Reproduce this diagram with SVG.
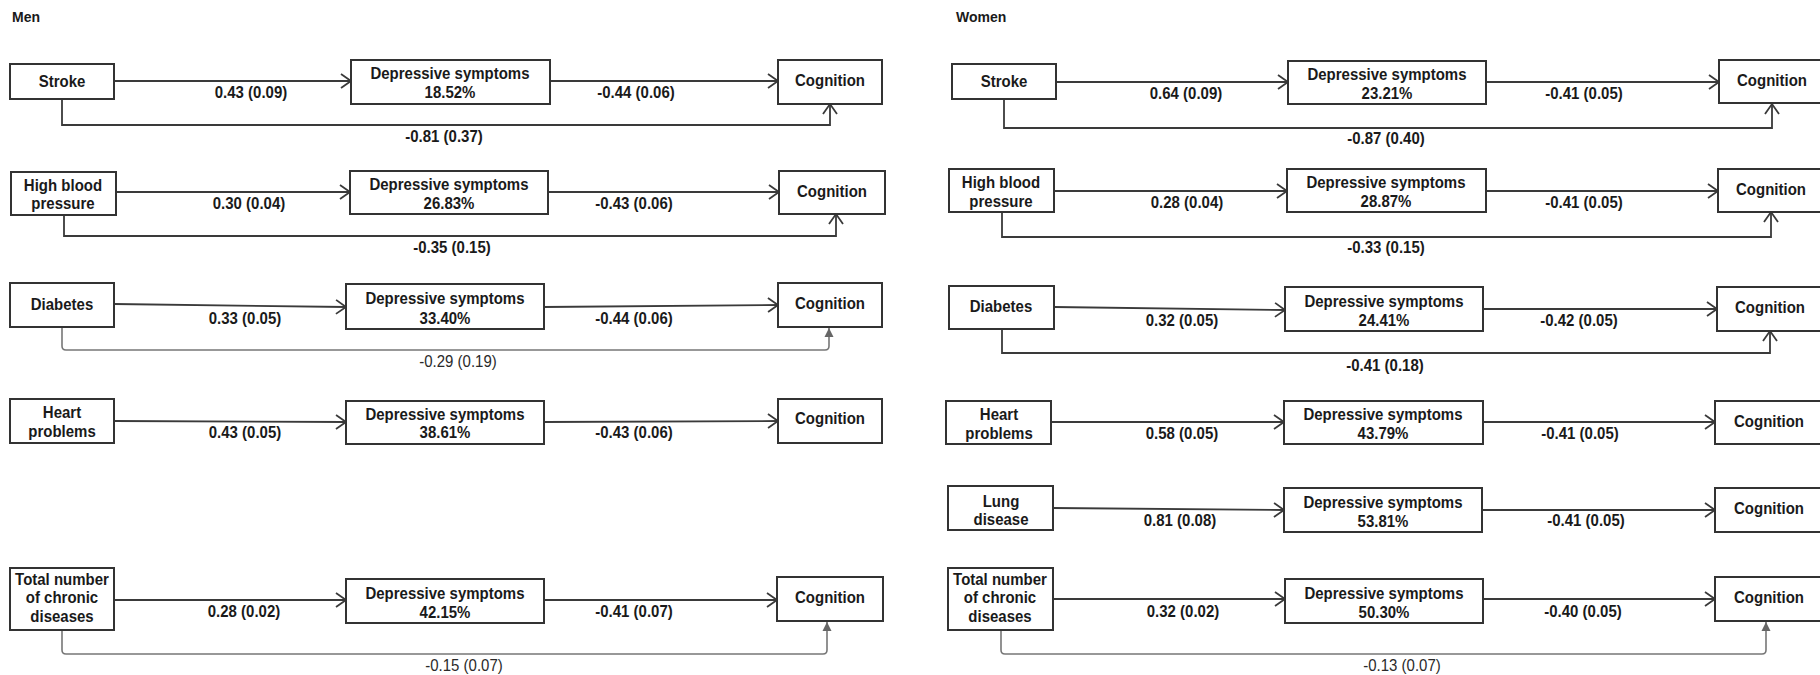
<svg xmlns="http://www.w3.org/2000/svg" width="1820" height="675" viewBox="0 0 1820 675">
<style>
  .bg{fill:#ffffff}
  .box{fill:#ffffff;stroke:#333333;stroke-width:2}
  .t{font-family:"Liberation Sans",Arial,sans-serif;font-size:15px;font-weight:bold;fill:#1a1a1a;text-anchor:middle;dominant-baseline:central;transform-box:fill-box;transform-origin:center;transform:scaleY(1.1)}
  .r{font-weight:normal;fill:#2a2a2a}
  .title{font-family:"Liberation Sans",Arial,sans-serif;font-size:14px;font-weight:bold;fill:#1a1a1a}
  .ln{fill:none;stroke:#3a3a3a;stroke-width:1.8}
  .lg{fill:none;stroke:#777777;stroke-width:1.6;stroke-linejoin:round}
</style>
<defs>
  <marker id="open" markerUnits="userSpaceOnUse" markerWidth="14" markerHeight="16" refX="11" refY="7" orient="auto" overflow="visible">
    <path d="M1,0 L11,7 L1,14" fill="none" stroke="#3a3a3a" stroke-width="1.8"/>
  </marker>
  <marker id="fill" markerUnits="userSpaceOnUse" markerWidth="12" markerHeight="10" refX="9" refY="4.5" orient="auto" overflow="visible">
    <path d="M0,0 L9,4.5 L0,9 Z" fill="#666666"/>
  </marker>
</defs>
<rect class="bg" x="0" y="0" width="1820" height="675"/>

<text class="title" x="12" y="22">Men</text>
<text class="title" x="956" y="22">Women</text>

<g id="connectors">
  <!-- Men row 1 -->
  <line class="ln" x1="114" y1="81" x2="351" y2="81" marker-end="url(#open)"/>
  <line class="ln" x1="550" y1="81" x2="778" y2="81" marker-end="url(#open)"/>
  <path class="ln" d="M62 99 V125 H830 V104" marker-end="url(#open)"/>
  <!-- Men row 2 -->
  <line class="ln" x1="116" y1="192" x2="350" y2="192" marker-end="url(#open)"/>
  <line class="ln" x1="548" y1="192" x2="779" y2="192" marker-end="url(#open)"/>
  <path class="ln" d="M64 215 V236 H836 V214" marker-end="url(#open)"/>
  <!-- Men row 3 -->
  <line class="ln" x1="114" y1="304" x2="346" y2="307" marker-end="url(#open)"/>
  <line class="ln" x1="544" y1="307" x2="778" y2="305" marker-end="url(#open)"/>
  <path class="lg" d="M62 327 V346 Q62 350 66 350 H825 Q829 350 829 346 V328" marker-end="url(#fill)"/>
  <!-- Men row 4 -->
  <line class="ln" x1="114" y1="421" x2="346" y2="422" marker-end="url(#open)"/>
  <line class="ln" x1="544" y1="422" x2="778" y2="421" marker-end="url(#open)"/>
  <!-- Men row 5 -->
  <line class="ln" x1="114" y1="600" x2="346" y2="600" marker-end="url(#open)"/>
  <line class="ln" x1="544" y1="600" x2="777" y2="600" marker-end="url(#open)"/>
  <path class="lg" d="M62 630 V650 Q62 654 66 654 H823 Q827 654 827 650 V622" marker-end="url(#fill)"/>

  <!-- Women row 1 -->
  <line class="ln" x1="1056" y1="82" x2="1288" y2="82" marker-end="url(#open)"/>
  <line class="ln" x1="1486" y1="82" x2="1719" y2="82" marker-end="url(#open)"/>
  <path class="ln" d="M1004 99 V128 H1772 V104" marker-end="url(#open)"/>
  <!-- Women row 2 -->
  <line class="ln" x1="1054" y1="191" x2="1287" y2="191" marker-end="url(#open)"/>
  <line class="ln" x1="1486" y1="191" x2="1718" y2="191" marker-end="url(#open)"/>
  <path class="ln" d="M1002 212 V237 H1771 V212" marker-end="url(#open)"/>
  <!-- Women row 3 -->
  <line class="ln" x1="1054" y1="307" x2="1285" y2="310" marker-end="url(#open)"/>
  <line class="ln" x1="1483" y1="309" x2="1717" y2="309" marker-end="url(#open)"/>
  <path class="ln" d="M1002 329 V353 H1770 V331" marker-end="url(#open)"/>
  <!-- Women row 4 -->
  <line class="ln" x1="1051" y1="422" x2="1284" y2="422" marker-end="url(#open)"/>
  <line class="ln" x1="1483" y1="422" x2="1715" y2="422" marker-end="url(#open)"/>
  <!-- Women row 5 -->
  <line class="ln" x1="1053" y1="508" x2="1284" y2="510" marker-end="url(#open)"/>
  <line class="ln" x1="1482" y1="510" x2="1715" y2="510" marker-end="url(#open)"/>
  <!-- Women row 6 -->
  <line class="ln" x1="1053" y1="599" x2="1285" y2="599" marker-end="url(#open)"/>
  <line class="ln" x1="1483" y1="599" x2="1715" y2="599" marker-end="url(#open)"/>
  <path class="lg" d="M1001 630 V650 Q1001 654 1005 654 H1762 Q1766 654 1766 650 V622" marker-end="url(#fill)"/>
</g>

<g id="edge-labels">
  <text class="t" x="251" y="92">0.43 (0.09)</text>
  <text class="t" x="636" y="92">-0.44 (0.06)</text>
  <text class="t" x="444" y="136">-0.81 (0.37)</text>
  <text class="t" x="249" y="203">0.30 (0.04)</text>
  <text class="t" x="634" y="203">-0.43 (0.06)</text>
  <text class="t" x="452" y="247">-0.35 (0.15)</text>
  <text class="t" x="245" y="318">0.33 (0.05)</text>
  <text class="t" x="634" y="318">-0.44 (0.06)</text>
  <text class="t r" x="458" y="361">-0.29 (0.19)</text>
  <text class="t" x="245" y="432">0.43 (0.05)</text>
  <text class="t" x="634" y="432">-0.43 (0.06)</text>
  <text class="t" x="244" y="611">0.28 (0.02)</text>
  <text class="t" x="634" y="611">-0.41 (0.07)</text>
  <text class="t r" x="464" y="665">-0.15 (0.07)</text>

  <text class="t" x="1186" y="93">0.64 (0.09)</text>
  <text class="t" x="1584" y="93">-0.41 (0.05)</text>
  <text class="t" x="1386" y="138">-0.87 (0.40)</text>
  <text class="t" x="1187" y="202">0.28 (0.04)</text>
  <text class="t" x="1584" y="202">-0.41 (0.05)</text>
  <text class="t" x="1386" y="247">-0.33 (0.15)</text>
  <text class="t" x="1182" y="320">0.32 (0.05)</text>
  <text class="t" x="1579" y="320">-0.42 (0.05)</text>
  <text class="t" x="1385" y="365">-0.41 (0.18)</text>
  <text class="t" x="1182" y="433">0.58 (0.05)</text>
  <text class="t" x="1580" y="433">-0.41 (0.05)</text>
  <text class="t" x="1180" y="520">0.81 (0.08)</text>
  <text class="t" x="1586" y="520">-0.41 (0.05)</text>
  <text class="t" x="1183" y="611">0.32 (0.02)</text>
  <text class="t" x="1583" y="611">-0.40 (0.05)</text>
  <text class="t r" x="1402" y="665">-0.13 (0.07)</text>
</g>

<!-- Men nodes -->
<g id="m-stroke"><rect class="box" x="10" y="64" width="104" height="35"/><text class="t" x="62" y="81">Stroke</text></g>
<g id="m-dep1"><rect class="box" x="351" y="60" width="199" height="44"/><text class="t" x="450" y="73">Depressive symptoms</text><text class="t" x="450" y="92">18.52%</text></g>
<g id="m-cog1"><rect class="box" x="778" y="60" width="104" height="44"/><text class="t" x="830" y="80">Cognition</text></g>

<g id="m-hbp"><rect class="box" x="11" y="172" width="105" height="43"/><text class="t" x="63" y="185">High blood</text><text class="t" x="63" y="203">pressure</text></g>
<g id="m-dep2"><rect class="box" x="350" y="171" width="198" height="43"/><text class="t" x="449" y="184">Depressive symptoms</text><text class="t" x="449" y="203">26.83%</text></g>
<g id="m-cog2"><rect class="box" x="779" y="171" width="106" height="43"/><text class="t" x="832" y="191">Cognition</text></g>

<g id="m-diabetes"><rect class="box" x="10" y="283" width="104" height="44"/><text class="t" x="62" y="304">Diabetes</text></g>
<g id="m-dep3"><rect class="box" x="346" y="284" width="198" height="45"/><text class="t" x="445" y="298">Depressive symptoms</text><text class="t" x="445" y="318">33.40%</text></g>
<g id="m-cog3"><rect class="box" x="778" y="283" width="104" height="44"/><text class="t" x="830" y="303">Cognition</text></g>

<g id="m-heart"><rect class="box" x="10" y="399" width="104" height="44"/><text class="t" x="62" y="412">Heart</text><text class="t" x="62" y="431">problems</text></g>
<g id="m-dep4"><rect class="box" x="346" y="401" width="198" height="43"/><text class="t" x="445" y="414">Depressive symptoms</text><text class="t" x="445" y="432">38.61%</text></g>
<g id="m-cog4"><rect class="box" x="778" y="399" width="104" height="44"/><text class="t" x="830" y="418">Cognition</text></g>

<g id="m-total"><rect class="box" x="10" y="568" width="104" height="62"/><text class="t" x="62" y="579">Total number</text><text class="t" x="62" y="597">of chronic</text><text class="t" x="62" y="616">diseases</text></g>
<g id="m-dep5"><rect class="box" x="346" y="579" width="198" height="44"/><text class="t" x="445" y="593">Depressive symptoms</text><text class="t" x="445" y="612">42.15%</text></g>
<g id="m-cog5"><rect class="box" x="777" y="577" width="106" height="44"/><text class="t" x="830" y="597">Cognition</text></g>

<!-- Women nodes -->
<g id="w-stroke"><rect class="box" x="952" y="64" width="104" height="35"/><text class="t" x="1004" y="81">Stroke</text></g>
<g id="w-dep1"><rect class="box" x="1288" y="61" width="198" height="43"/><text class="t" x="1387" y="74">Depressive symptoms</text><text class="t" x="1387" y="93">23.21%</text></g>
<g id="w-cog1"><rect class="box" x="1719" y="60" width="104" height="43"/><text class="t" x="1772" y="80">Cognition</text></g>

<g id="w-hbp"><rect class="box" x="949" y="169" width="105" height="43"/><text class="t" x="1001" y="182">High blood</text><text class="t" x="1001" y="201">pressure</text></g>
<g id="w-dep2"><rect class="box" x="1287" y="169" width="199" height="43"/><text class="t" x="1386" y="182">Depressive symptoms</text><text class="t" x="1386" y="201">28.87%</text></g>
<g id="w-cog2"><rect class="box" x="1718" y="169" width="105" height="43"/><text class="t" x="1771" y="189">Cognition</text></g>

<g id="w-diabetes"><rect class="box" x="949" y="286" width="105" height="43"/><text class="t" x="1001" y="306">Diabetes</text></g>
<g id="w-dep3"><rect class="box" x="1285" y="287" width="198" height="44"/><text class="t" x="1384" y="301">Depressive symptoms</text><text class="t" x="1384" y="320">24.41%</text></g>
<g id="w-cog3"><rect class="box" x="1717" y="287" width="106" height="44"/><text class="t" x="1770" y="307">Cognition</text></g>

<g id="w-heart"><rect class="box" x="946" y="401" width="105" height="43"/><text class="t" x="999" y="414">Heart</text><text class="t" x="999" y="433">problems</text></g>
<g id="w-dep4"><rect class="box" x="1284" y="401" width="199" height="43"/><text class="t" x="1383" y="414">Depressive symptoms</text><text class="t" x="1383" y="433">43.79%</text></g>
<g id="w-cog4"><rect class="box" x="1715" y="401" width="108" height="43"/><text class="t" x="1769" y="421">Cognition</text></g>

<g id="w-lung"><rect class="box" x="948" y="486" width="105" height="44"/><text class="t" x="1001" y="501">Lung</text><text class="t" x="1001" y="519">disease</text></g>
<g id="w-dep5"><rect class="box" x="1284" y="488" width="198" height="44"/><text class="t" x="1383" y="502">Depressive symptoms</text><text class="t" x="1383" y="521">53.81%</text></g>
<g id="w-cog5"><rect class="box" x="1715" y="488" width="108" height="44"/><text class="t" x="1769" y="508">Cognition</text></g>

<g id="w-total"><rect class="box" x="948" y="568" width="105" height="62"/><text class="t" x="1000" y="579">Total number</text><text class="t" x="1000" y="597">of chronic</text><text class="t" x="1000" y="616">diseases</text></g>
<g id="w-dep6"><rect class="box" x="1285" y="579" width="198" height="44"/><text class="t" x="1384" y="593">Depressive symptoms</text><text class="t" x="1384" y="612">50.30%</text></g>
<g id="w-cog6"><rect class="box" x="1715" y="577" width="108" height="44"/><text class="t" x="1769" y="597">Cognition</text></g>
</svg>
